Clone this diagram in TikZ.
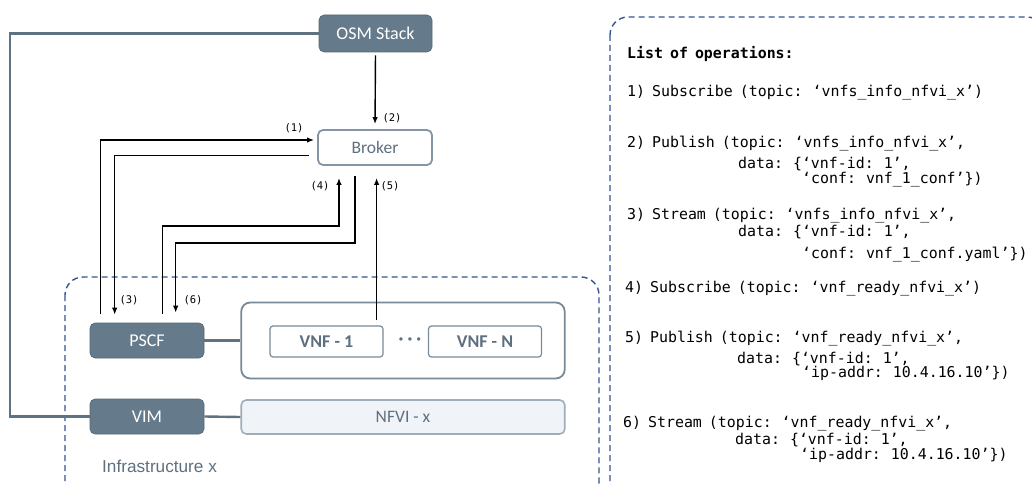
\documentclass[tikz,border=0pt]{standalone}
\usepackage{fontspec}
\setmainfont{Carlito}
\newfontfamily\opfont{DejaVu Sans Mono}
\newfontfamily\lblfont{DejaVu Sans Mono}
\newfontfamily\arialfont{Liberation Sans}
\newcommand\opsetup{\opfont\fontsize{14.9}{18}\selectfont\fontdimen2\font=7pt\relax}
\newcommand\opsetupbf{\opfont\bfseries\fontsize{14.9}{18}\selectfont\fontdimen2\font=7pt\relax}
\usetikzlibrary{calc,arrows.meta}
\definecolor{slatefill}{RGB}{101,122,138}
\definecolor{slateline}{RGB}{94,114,130}
\definecolor{slatetext}{RGB}{94,112,128}
\definecolor{brokerbd}{RGB}{132,150,165}
\definecolor{vnfbd}{RGB}{120,138,152}
\definecolor{nfvifill}{RGB}{240,243,247}
\definecolor{nfvibd}{RGB}{160,174,186}
\definecolor{dashblue}{RGB}{52,85,145}
\begin{document}
\begin{tikzpicture}[x=1pt,y=-1pt,
  darkbox/.style={draw=slatefill!85!black,line width=0.6pt,fill=slatefill,rounded corners=5pt,text=white,
    font=\fontsize{18}{20}\selectfont,minimum width=114pt,minimum height=35pt,inner sep=0pt},
  lightbox/.style={draw=brokerbd,line width=1.8pt,fill=white,rounded corners=5pt,text=slatetext,
    font=\fontsize{17.5}{20}\selectfont,inner sep=0pt},
  vnfbox/.style={draw=vnfbd,line width=1.2pt,fill=white,rounded corners=3pt,text=slatetext,
    font=\bfseries\fontsize{18}{20}\selectfont,minimum width=113pt,minimum height=31pt,inner sep=0pt},
  link/.style={draw=slateline,line width=2.4pt},
  arr/.style={draw=black,line width=1.4pt,-{Latex[length=7pt,width=5.5pt]}},
  steplabel/.style={font=\lblfont\fontsize{10.5}{12}\selectfont,inner sep=0pt},
  optext/.style={font=\opsetup,inner sep=0pt,anchor=base west},
  dashbox/.style={draw=dashblue,line width=1.4pt,dash pattern=on 6pt off 4pt,rounded corners=18pt}
]
\useasboundingbox (0,0) rectangle (1032,484);

% dashed frames
\draw[dashbox] (65,277) rectangle (599,500);
\draw[dashbox] (610,17) rectangle (1045,500);

% nodes
\node[darkbox,minimum width=113pt,minimum height=37pt] (osm) at (375.5,33.5) {OSM Stack};
\node[lightbox,minimum width=114pt,minimum height=35pt] (broker) at (375,147.5) {Broker};
\node[darkbox] (pscf) at (147,340.5) {PSCF};
\node[darkbox] (vim) at (147,416.5) {VIM};
\node[lightbox,draw=vnfbd,line width=1.8pt,rounded corners=9pt,minimum width=323.5pt,minimum height=76pt] (vnfc) at (403,340.5) {};
\node[vnfbox] (vnf1) at (326.5,341.5) {VNF - 1};
\node[vnfbox] (vnfn) at (485,341.5) {VNF - N};
\node[text=slatetext,font=\bfseries\fontsize{18}{20}\selectfont,inner sep=0pt] (dots) at (410,341.5) {· · ·};
\node[lightbox,fill=nfvifill,draw=nfvibd,line width=1.6pt,minimum width=323.5pt,minimum height=34pt] (nfvi) at (403,417) {NFVI - x};
\node[text=slatetext,font=\arialfont\fontsize{17.2}{20}\selectfont,inner sep=0pt,anchor=base west] (infra) at (102,472) {Infrastructure x};

% slate links
\coordinate (lc) at (10,33.5);
\draw[link] (osm.west) -- (lc) |- (vim.west);
\draw[link] (pscf.east) -- (vnfc.west);
\draw[link] (vim.east) -- (nfvi.west);

% message arrows
\draw[arr,shorten <=3pt,shorten >=5pt] (osm.south) -- (broker.north);
\draw[arr,shorten >=3pt] ($(pscf.north west)+(11,-9)$) |- ($(broker.west)+(0,-7.5)$);
\draw[arr] ($(broker.west)+(-8,8)$) -| ($(pscf.north west)+(25,-8)$);
\draw[arr] ($(pscf.north west)+(73,-9)$) |- ($(broker.south)+(-36,60)$) -- ($(broker.south)+(-36,12)$);
\draw[arr] ($(broker.south)+(-20,10)$) -- ++(0,67) -| ($(pscf.north west)+(86,-10)$);
\coordinate (b5) at ($(broker.south)+(1,12)$);
\draw[arr] ($(vnf1.north east)+(-7,-5)$) coordinate (s5) -- (s5 |- b5);

% step labels
\node[steplabel] (l1) at (294,128) {(1)};
\node[steplabel] (l2) at (392,118) {(2)};
\node[steplabel] (l3) at (129,300) {(3)};
\node[steplabel] (l4) at (320,186) {(4)};
\node[steplabel] (l5) at (390,186) {(5)};
\node[steplabel] (l6) at (193,300) {(6)};

% operations list
\node[optext,font=\opsetupbf] (title) at (627,59) {List of operations:};
\node[optext] (o1) at (627,97) {1) Subscribe (topic: ‘vnfs\_info\_nfvi\_x’)};
\node[optext] (o2a) at (627,147) {2) Publish (topic: ‘vnfs\_info\_nfvi\_x’,};
\node[optext] (o2b) at (738,168) {data: \{‘vnf-id: 1’,};
\node[optext] (o2c) at (802,183) {‘conf: vnf\_1\_conf’\})};
\node[optext] (o3a) at (627,219) {3) Stream (topic: ‘vnfs\_info\_nfvi\_x’,};
\node[optext] (o3b) at (738,236) {data: \{‘vnf-id: 1’,};
\node[optext] (o3c) at (802,258) {‘conf: vnf\_1\_conf.yaml’\})};
\node[optext] (o4) at (625,292) {4) Subscribe (topic: ‘vnf\_ready\_nfvi\_x’)};
\node[optext] (o5a) at (625,342) {5) Publish (topic: ‘vnf\_ready\_nfvi\_x’,};
\node[optext] (o5b) at (737,363) {data: \{‘vnf-id: 1’,};
\node[optext] (o5c) at (802,377) {‘ip-addr: 10.4.16.10’\})};
\node[optext] (o6a) at (623,427) {6) Stream (topic: ‘vnf\_ready\_nfvi\_x’,};
\node[optext] (o6b) at (735,444) {data: \{‘vnf-id: 1’,};
\node[optext] (o6c) at (800,459) {‘ip-addr: 10.4.16.10’\})};
\end{tikzpicture}
\end{document}
